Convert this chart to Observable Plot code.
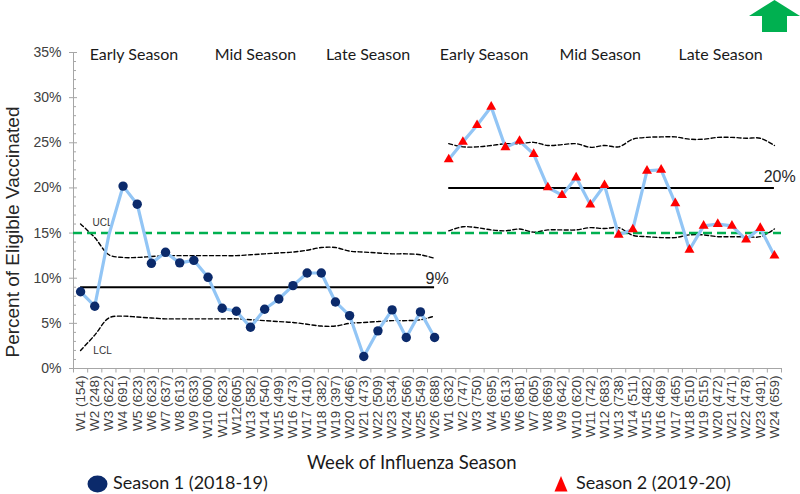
<!DOCTYPE html>
<html><head><meta charset="utf-8">
<script src="https://cdn.jsdelivr.net/npm/d3@7"></script>
<script src="https://cdn.jsdelivr.net/npm/@observablehq/plot@0.6"></script>
<style>
body{margin:0;background:#fff;}
#wrap{position:relative;width:800px;height:494px;overflow:hidden;background:#fff;}
#chart{position:absolute;left:0;top:0;}
.lbl{position:absolute;font-family:Lato,"Open Sans",sans-serif;color:#1a1a1a;white-space:nowrap;line-height:18px;}
#ylabel{position:absolute;left:13px;top:232px;width:320px;margin-left:-160px;margin-top:-11px;height:22px;line-height:22px;text-align:center;transform:rotate(-90deg);font-family:"Liberation Sans",Arial,sans-serif;font-size:19px;color:#262626;white-space:nowrap;}
</style></head><body>
<div id="wrap"><div id="chart"></div>
<div id="ylabel">Percent of Eligible Vaccinated</div>
<svg style="position:absolute;left:0;top:0" width="800" height="40"><polygon points="774.5,0 800,16 787,16 787,32 762,32 762,16 749,16" fill="#00b050"/></svg>
<div class="lbl" style="left:307px;top:453px;width:240px;font-size:18.5px;">Week of Influenza Season</div>
<svg style="position:absolute;left:87px;top:475px" width="21" height="18"><ellipse cx="10.5" cy="9" rx="10" ry="8.5" fill="#0b2a6b"/></svg>
<div class="lbl" style="left:113px;top:473px;width:180px;font-size:18px;">Season 1 (2018-19)</div>
<svg style="position:absolute;left:554px;top:476px" width="14" height="16"><polygon points="7,0 13.5,15.5 0.5,15.5" fill="#ff0000"/></svg>
<div class="lbl" style="left:576px;top:473px;width:180px;font-size:18px;">Season 2 (2019-20)</div>
</div>
<script>
const weeks1 = ["W1 (154)","W2 (248)","W3 (622)","W4 (691)","W5 (623)","W6 (623)","W7 (637)","W8 (613)","W9 (633)","W10 (600)","W11 (623)","W12(605)","W13 (582)","W14 (540)","W15 (499)","W16 (473)","W17 (410)","W18 (382)","W19 (397)","W20 (466)","W21 (473)","W22 (509)","W23 (534)","W24 (566)","W25 (549)","W26 (688)"];
const weeks2 = ["W1 (632)","W2 (747)","W3 (750)","W4 (695)","W5 (613)","W6 (681)","W7 (605)","W8 (669)","W9 (642)","W10 (620)","W11 (742)","W12 (683)","W13 (738)","W14 (511)","W15 (482)","W16 (469)","W17 (465)","W18 (510)","W19 (515)","W20 (472)","W21 (471)","W22 (478)","W23 (491)","W24 (659)"];
const season1 = [8.5,6.9,14.8,20.2,18.2,11.65,12.87,11.7,11.98,10.1,6.67,6.34,4.57,6.56,7.7,9.18,10.58,10.58,7.37,5.86,1.33,4.17,6.49,3.43,6.27,3.43];
const ucl1 = [16.0,14.5,12.6,12.3,12.3,12.4,12.5,12.5,12.5,12.5,12.5,12.5,12.6,12.7,12.8,12.9,13.1,13.4,13.4,13.0,12.9,12.8,12.7,12.7,12.6,12.2];
const lcl1 = [2.0,3.7,5.6,5.8,5.7,5.6,5.5,5.5,5.5,5.5,5.5,5.5,5.4,5.3,5.2,5.1,4.9,4.7,4.7,5.0,5.1,5.2,5.3,5.3,5.4,5.8];
const season2 = [23.15,25.1,26.95,28.98,24.5,25.2,23.75,20.05,19.2,21.15,18.15,20.3,14.8,15.4,21.9,22.0,18.3,13.15,15.8,16.0,15.8,14.27,15.55,12.5];
const ucl2 = [24.9,24.55,24.55,24.7,24.9,24.9,25.05,24.7,24.8,24.9,24.5,24.7,24.55,25.4,25.6,25.65,25.65,25.4,25.4,25.6,25.6,25.5,25.5,24.7];
const lcl2 = [15.25,15.7,15.6,15.35,15.25,15.45,15.1,15.35,15.35,15.35,15.6,15.5,15.6,14.75,14.6,14.5,14.5,14.8,14.8,14.6,14.6,14.6,14.6,15.45];
const center1 = 9, center2 = 20, target = 15;
const phases = ["Early Season","Mid Season","Late Season"];
const yTicks = [0,5,10,15,20,25,30,35];
const noMarker1 = ["W3 (622)"]; // week drawn without a marker in the reference

const rows1 = weeks1.map((w,k)=>({i:k, week:w, v:season1[k], ucl:ucl1[k], lcl:lcl1[k]}));
const rows2 = weeks2.map((w,k)=>({i:k+weeks1.length, week:w, v:season2[k], ucl:ucl2[k], lcl:lcl2[k]}));
const labels = weeks1.concat(weeks2);
const n = labels.length;
const centers = [
  {v:center1, a:rows1[0].i, b:rows1[rows1.length-1].i},
  {v:center2, a:rows2[0].i, b:rows2[rows2.length-1].i}
];
const axisGray = "#a6a6a6";
const cal = "Lato, 'Open Sans', sans-serif";

const chart = Plot.plot({
  width: 800, height: 450,
  marginLeft: 73, marginRight: 19, marginTop: 52, marginBottom: 82,
  x: {type:"linear", domain:[-0.5, n-0.5], axis:null},
  y: {domain:[0,35], axis:null},
  style: {fontFamily:"'Liberation Sans', Arial, sans-serif", background:"#fff", overflow:"visible"},
  marks: [
    // axes
    Plot.axisY({ticks:yTicks, tickFormat:d=>d+"%", tickSize:4, tickPadding:8, fontSize:14, fill:"#404040", stroke:axisGray}),
    Plot.ruleY(yTicks, {x1:-0.5, x2:-0.5+4/14.16, stroke:axisGray}),
    Plot.ruleY(d3.range(0,36).filter(d=>d%5), {x1:-0.5, x2:-0.5+3/14.16, stroke:axisGray}),
    Plot.ruleX([-0.5], {y1:0, y2:35, stroke:axisGray}),
    Plot.ruleY([0], {x1:-0.5, x2:n-0.5, stroke:axisGray}),
    Plot.ruleX(d3.range(n+1).map(k=>k-0.5), {y1:0, y2:-0.5, stroke:axisGray}),
    Plot.axisX({ticks:d3.range(n), tickFormat:i=>labels[i], tickRotate:-90, tickSize:0, tickPadding:7, fontSize:13.5, fill:"#404040"}),
    // phase headers
    Plot.text(phases, {x:[3.77,12.35,20.3], y:35, dy:2, fontSize:16, fontFamily:cal, fill:"#1a1a1a"}),
    Plot.text(phases, {x:[28.5,36.7,45.2], y:35, dy:2, fontSize:16, fontFamily:cal, fill:"#1a1a1a"}),
    // control limits
    Plot.line(rows1, {x:"i", y:"ucl", stroke:"#000", strokeWidth:1.4, strokeDasharray:"4,2.5", curve:"catmull-rom"}),
    Plot.line(rows1, {x:"i", y:"lcl", stroke:"#000", strokeWidth:1.4, strokeDasharray:"4,2.5", curve:"catmull-rom"}),
    Plot.line(rows2, {x:"i", y:"ucl", stroke:"#000", strokeWidth:1.4, strokeDasharray:"4,2.5", curve:"catmull-rom"}),
    Plot.line(rows2, {x:"i", y:"lcl", stroke:"#000", strokeWidth:1.4, strokeDasharray:"4,2.5", curve:"catmull-rom"}),
    Plot.text(["UCL"], {x:1.55, y:16.1, fontSize:10, fill:"#333"}),
    Plot.text(["LCL"], {x:1.55, y:2.0, fontSize:10, fill:"#333"}),
    // center lines
    Plot.ruleY(centers, {y:"v", x1:"a", x2:"b", stroke:"#000", strokeWidth:2}),
    Plot.text([center1+"%"], {x:26.0, y:center1, dy:-3, textAnchor:"end", lineAnchor:"bottom", fontSize:16, fill:"#262626"}),
    Plot.text([center2+"%"], {x:50.5, y:center2, dy:-6, textAnchor:"end", lineAnchor:"bottom", fontSize:16, fill:"#262626"}),
    // target
    Plot.ruleY([target], {stroke:"#00b050", strokeWidth:2.5, strokeDasharray:"9,5"}),
    // series
    Plot.line(rows1, {x:"i", y:"v", stroke:"#92c5f5", strokeWidth:3.2}),
    Plot.line(rows2, {x:"i", y:"v", stroke:"#92c5f5", strokeWidth:3.2}),
    Plot.dot(rows1.filter(d=>!noMarker1.includes(d.week)), {x:"i", y:"v", r:4.7, fill:"#0b2a6b"}),
    Plot.dot(rows2, {x:"i", y:"v", symbol:"triangle", r:3.7, fill:"#ff0000"})
  ]
});
document.getElementById("chart").appendChild(chart);
</script>
</body></html>
